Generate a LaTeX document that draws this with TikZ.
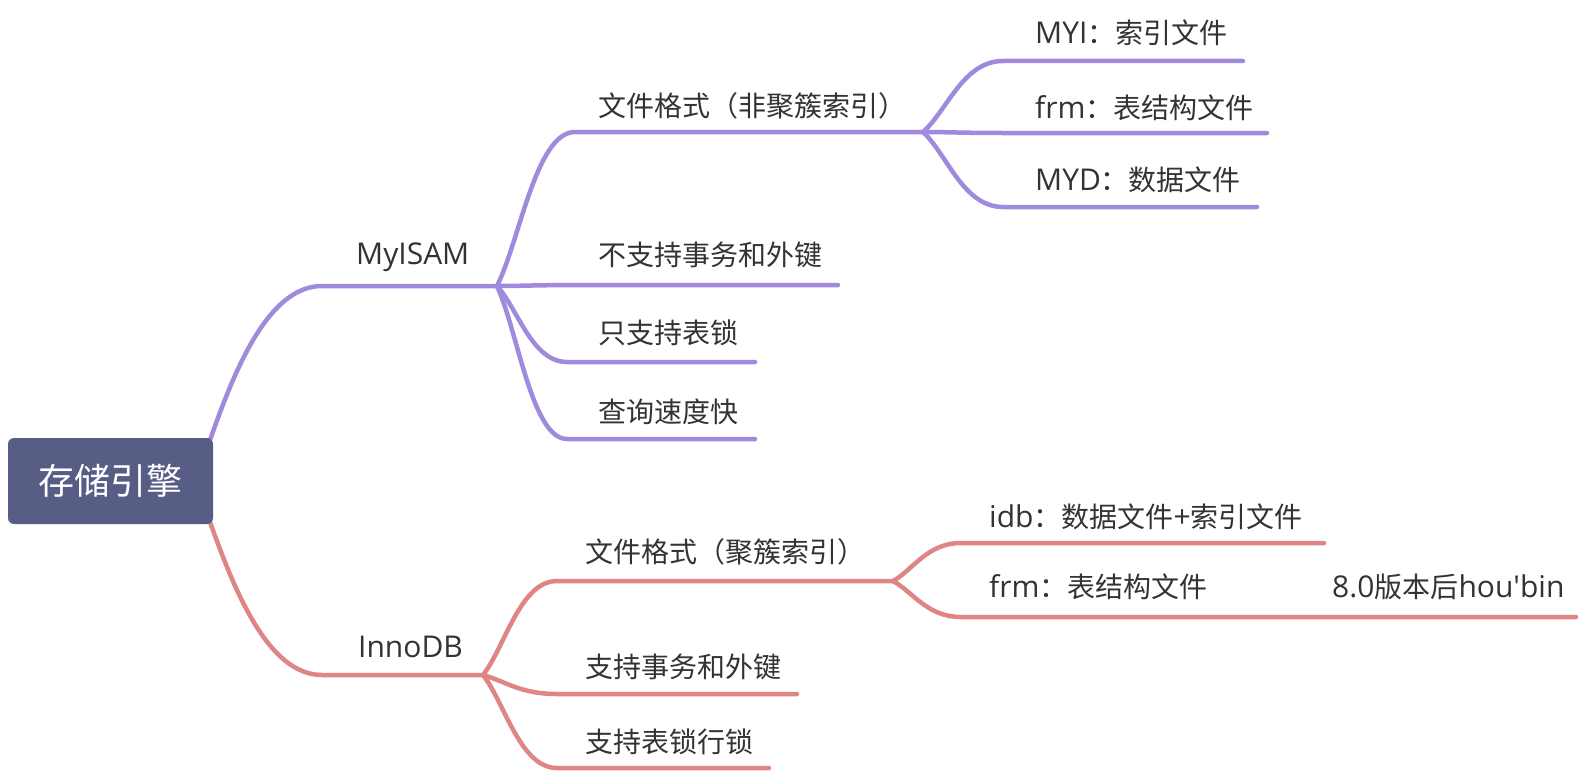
\documentclass[tikz,border=0pt]{standalone}
\usepackage{fontspec}
\newfontfamily\lat{Open Sans}
\newfontfamily\cjk{Noto Sans CJK SC}
\newcommand\cj[1]{{\cjk\fontsize{28}{34}\selectfont #1}}
\definecolor{purp}{HTML}{A08ADD}
\definecolor{redd}{HTML}{E08585}
\definecolor{rootc}{HTML}{585D86}
\definecolor{txt}{HTML}{333333}
\begin{document}
\begin{tikzpicture}[x=1pt,y=-1pt,
  lbl/.style={anchor=west, inner sep=0pt, text=txt, font=\lat\fontsize{30}{34}\selectfont},
  pbr/.style={draw=purp, line width=4.5pt, line cap=round},
  rbr/.style={draw=redd, line width=4.5pt, line cap=round},
  rootbox/.style={fill=rootc, rounded corners=6pt, minimum width=205pt, minimum height=86pt, inner sep=0pt, text=white, font=\cjk\fontsize{36}{42}\selectfont}]
\useasboundingbox[fill=white] (0,0) rectangle (1582,776);

% coordinates of underline ends
\coordinate (rootT) at (210,440);
\coordinate (rootB) at (210,522);
\coordinate (myS) at (322,286);  \coordinate (myE) at (497,286);
\coordinate (a1S) at (575,132);  \coordinate (a1E) at (923,132);
\coordinate (a2S) at (575,285);  \coordinate (a2E) at (838,285);
\coordinate (a3S) at (567,362);  \coordinate (a3E) at (755,362);
\coordinate (a4S) at (567,439);  \coordinate (a4E) at (755,439);
\coordinate (c1S) at (1003,61);  \coordinate (c1E) at (1243,61);
\coordinate (c2S) at (1003,133); \coordinate (c2E) at (1267,133);
\coordinate (c3S) at (1003,207); \coordinate (c3E) at (1257,207);
\coordinate (inS) at (322,675);  \coordinate (inE) at (483,675);
\coordinate (b1S) at (557,581);  \coordinate (b1E) at (893,581);
\coordinate (b2S) at (557,694);  \coordinate (b2E) at (797,694);
\coordinate (b3S) at (557,768);  \coordinate (b3E) at (769,768);
\coordinate (d1S) at (961,543);  \coordinate (d1E) at (1324,543);
\coordinate (d2S) at (961,617);  \coordinate (d2E) at (1576,617);

% purple branch
\draw[pbr] (rootT) .. controls +(22,-62) and +(-56,0) .. (myS) -- (myE);
\draw[pbr] (myE) .. controls +(23,-46) and +(-39,0) .. (a1S) -- (a1E);
\draw[pbr] (myE) .. controls +(20,0) and +(-30,0) .. (a2S) -- (a2E);
\draw[pbr] (myE) .. controls +(21,23) and +(-35,0) .. (a3S) -- (a3E);
\draw[pbr] (myE) .. controls +(21,46) and +(-35,0) .. (a4S) -- (a4E);
\draw[pbr] (a1E) .. controls +(24,-21) and +(-40,0) .. (c1S) -- (c1E);
\draw[pbr] (a1E) .. controls +(24,0) and +(-40,0) .. (c2S) -- (c2E);
\draw[pbr] (a1E) .. controls +(24,22) and +(-40,0) .. (c3S) -- (c3E);

% red branch
\draw[rbr] (rootB) .. controls +(22,61) and +(-56,0) .. (inS) -- (inE);
\draw[rbr] (inE) .. controls +(22,-28) and +(-37,0) .. (b1S) -- (b1E);
\draw[rbr] (inE) .. controls +(22,6) and +(-37,0) .. (b2S) -- (b2E);
\draw[rbr] (inE) .. controls +(22,28) and +(-37,0) .. (b3S) -- (b3E);
\draw[rbr] (b1E) .. controls +(20,-11) and +(-34,0) .. (d1S) -- (d1E);
\draw[rbr] (b1E) .. controls +(20,11) and +(-34,0) .. (d2S) -- (d2E);

% root
\node[rootbox] (root) at (110.5,481) {存储引擎};

% labels
\node[lbl] (my) at (356,257) {MyISAM};
\node[lbl] (a1) at (598,106) {\cj{文件格式（非聚簇索引）}};
\node[lbl] (a2) at (598,255) {\cj{不支持事务和外键}};
\node[lbl] (a3) at (598,333) {\cj{只支持表锁}};
\node[lbl] (a4) at (598,412) {\cj{查询速度快}};
\node[lbl] (c1) at (1035,33) {MYI\cj{：索引文件}};
\node[lbl] (c2) at (1035,108) {frm\cj{：表结构文件}};
\node[lbl] (c3) at (1035,180) {MYD\cj{：数据文件}};
\node[lbl] (in) at (358,647) {InnoDB};
\node[lbl] (b1) at (585,552) {\cj{文件格式（聚簇索引）}};
\node[lbl] (b2) at (585,667) {\cj{支持事务和外键}};
\node[lbl] (b3) at (585,742) {\cj{支持表锁行锁}};
\node[lbl] (d1) at (989,517) {idb\cj{：数据文件}+\cj{索引文件}};
\node[lbl] (d2) at (989,587) {frm\cj{：表结构文件}};
\node[lbl] (d2n) at (1332,587) {8.0\cj{版本后}hou'bin};
\end{tikzpicture}
\end{document}
